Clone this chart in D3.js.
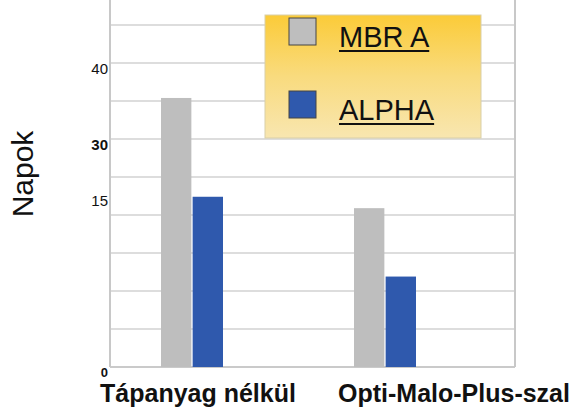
<!DOCTYPE html>
<html>
<head>
<meta charset="utf-8">
<script src="https://cdn.jsdelivr.net/npm/d3@7"></script>
<style>
  body { margin: 0; background: #fff; }
  text { font-family: Arial, "Liberation Sans", sans-serif; fill: #111; }
</style>
</head>
<body>
<svg class="plot" width="580" height="407"></svg>
<script>
// data
var categories = ["Tápanyag nélkül", "Opti-Malo-Plus-szal"];
var seriesNames = ["MBR A", "ALPHA"];
var mbrA = [35.4, 20.9];
var alpha = [22.4, 11.9];
var yTickLabels = ["0", "15", "30", "40"];
var yTickAt = [0, 22.6, 30, 40];   // where the labels sit in the original
var colors = ["#bebebe", "#2f59ad"];

var svg = d3.select(".plot"),
    left = 110, right = 515, top = 15, bottom = 367;

var y = d3.scaleLinear().domain([0, 45]).range([bottom, 25]);

// category scale (bar groups) and label scale
var x0 = d3.scaleBand().domain(categories).range([95.5, 481.5]);
var x1 = d3.scaleBand().domain(seriesNames).range([0, 62]).paddingInner(0.04);
var xLabel = d3.scalePoint().domain(categories).range([198, 454]);

var rows = categories.map(function(c, i) {
  return {cat: c, values: [mbrA[i], alpha[i]]};
});

//gridlines
svg.append("g")
    .selectAll("line")
    .data(d3.range(0, 46, 5))
    .enter().append("line")
    .attr("x1", left).attr("x2", right)
    .attr("y1", function(d) { return y(d); })
    .attr("y2", function(d) { return y(d); })
    .style("stroke", function(d) { return d === 0 ? "#b8b8b8" : "#d2d2d2"; })
    .style("stroke-width", 1.5);

// axis line and right border
svg.append("line").attr("x1", left).attr("x2", left).attr("y1", top).attr("y2", bottom)
    .style("stroke", "#c8c8c8").style("stroke-width", 2);
svg.append("line").attr("x1", right).attr("x2", right).attr("y1", top).attr("y2", bottom)
    .style("stroke", "#c8c8c8").style("stroke-width", 2);

//bars
var groups = svg.selectAll(".grp")
    .data(rows)
    .enter().append("g")
    .attr("class", "grp")
    .attr("transform", function(d) {
      return "translate(" + (x0(d.cat) + x0.bandwidth() / 2 - 31) + ",0)";
    });

groups.selectAll("rect")
    .data(function(d) { return d.values.map(function(v, i) { return {s: seriesNames[i], v: v, i: i}; }); })
    .enter().append("rect")
    .attr("x", function(d) { return x1(d.s); })
    .attr("y", function(d) { return y(d.v); })
    .attr("width", x1.bandwidth())
    .attr("height", function(d) { return bottom - y(d.v); })
    .style("fill", function(d) { return colors[d.i]; });

// y tick labels
svg.append("g")
    .selectAll("text")
    .data(yTickLabels)
    .enter().append("text")
    .attr("x", 108)
    .attr("y", function(d, i) { return y(yTickAt[i]) + (d === "0" ? 9.5 : 11); })
    .attr("text-anchor", "end")
    .style("font-size", function(d) { return d === "0" ? "13px" : "15px"; })
    .style("font-weight", function(d) { return (d === "0" || d === "30") ? "bold" : "normal"; })
    .text(function(d) { return d; });

// category labels
svg.append("g")
    .selectAll("text")
    .data(categories)
    .enter().append("text")
    .attr("x", function(d) { return xLabel(d); })
    .attr("y", 402)
    .attr("text-anchor", "middle")
    .style("font-size", "25px")
    .style("font-weight", "bold")
    .text(function(d) { return d; });

// y title
svg.append("text")
    .attr("transform", "translate(33,174) rotate(-90)")
    .attr("text-anchor", "middle")
    .style("font-size", "30px")
    .text("Napok");

// legend
var grad = svg.append("defs").append("linearGradient")
    .attr("id", "lg").attr("x1", 0).attr("x2", 0).attr("y1", 0).attr("y2", 1);
grad.append("stop").attr("offset", "0%").attr("stop-color", "#fbcb38");
grad.append("stop").attr("offset", "50%").attr("stop-color", "#f9db7e");
grad.append("stop").attr("offset", "100%").attr("stop-color", "#f8e6b0");

var legend = svg.append("g");
legend.append("rect")
    .attr("x", 265).attr("y", 15).attr("width", 216).attr("height", 123)
    .style("fill", "url(#lg)")
    .style("stroke", "#d9cfa8").style("stroke-width", 1);

var item = legend.selectAll(".item")
    .data(seriesNames)
    .enter().append("g")
    .attr("class", "item")
    .attr("transform", function(d, i) { return "translate(0," + (i * 73) + ")"; });

item.append("rect")
    .attr("x", 289).attr("y", 18).attr("width", 27).attr("height", 27)
    .style("fill", function(d, i) { return colors[i]; })
    .style("stroke", "#444").style("stroke-width", 1);

item.append("text")
    .attr("x", 339).attr("y", 47)
    .style("font-size", "29px")
    .text(function(d) { return d; })
    .each(function() {
      var w = this.getComputedTextLength();
      d3.select(this.parentNode).append("line")
          .attr("x1", 339).attr("x2", 339 + w)
          .attr("y1", 51).attr("y2", 51)
          .style("stroke", "#111").style("stroke-width", 2);
    });
</script>
</body>
</html>
